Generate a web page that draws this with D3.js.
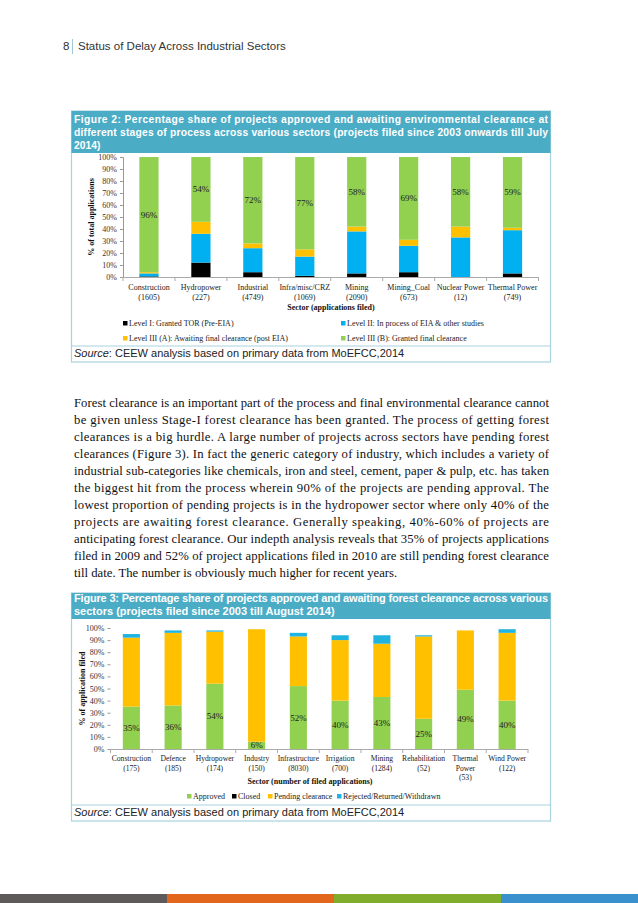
<!DOCTYPE html>
<html>
<head>
<meta charset="utf-8">
<script src="https://cdn.jsdelivr.net/npm/d3@7"></script>
<style>
  body { margin: 0; background: #fff; }
  svg { display: block; }
</style>
</head>
<body>
<svg id="page" width="638" height="903"></svg>
<script>
// ---- figure 2 data: environmental clearance stages ----
var sectors2 = ['Construction', 'Hydropower', 'Industrial', 'Infra/misc/CRZ', 'Mining', 'Mining_Coal', 'Nuclear Power', 'Thermal Power'];
var filed2 = ['(1605)', '(227)', '(4749)', '(1069)', '(2090)', '(673)', '(12)', '(749)'];
var level1 = [0.5, 12, 4, 1, 3, 4, 0, 3];
var level2 = [2.5, 24, 20, 16, 35, 22, 33, 36];
var level3a = [1, 10, 4, 6, 4, 5, 9, 2];
var level3b = [96, 54, 72, 77, 58, 69, 58, 59];
var legend2 = ['Level I: Granted TOR (Pre-EIA)', 'Level II: In process of EIA & other studies',
               'Level III (A): Awaiting final clearance (post EIA)', 'Level III (B): Granted final clearance'];

// ---- figure 3 data: forest clearance ----
var sectors3 = [['Construction', '(175)'], ['Defence', '(185)'], ['Hydropower', '(174)'], ['Industry', '(150)'],
                ['Infrastructure', '(8030)'], ['Irrigation', '(700)'], ['Mining', '(1284)'], ['Rehabilitation', '(52)'],
                ['Thermal', 'Power', '(53)'], ['Wind Power', '(122)']];
var approved = [35, 36, 54, 6, 52, 40, 43, 25, 49, 40];
var closed = [5, 2, 2, 1, 4, 6, 6, 6, 2, 1];
var pending = [57, 60, 43, 93, 41, 50, 44, 68, 49, 56];
var rejected = [3, 2, 1, 0, 3, 4, 7, 1, 0, 3];
var legend3 = ['Approved', 'Closed', 'Pending clearance', 'Rejected/Returned/Withdrawn'];

var yTicks = [0, 10, 20, 30, 40, 50, 60, 70, 80, 90, 100];

var paragraph = [
  'Forest clearance is an important part of the process and final environmental clearance cannot',
  'be given unless Stage-I forest clearance has been granted. The process of getting forest',
  'clearances is a big hurdle. A large number of projects across sectors have pending forest',
  'clearances (Figure 3). In fact the generic category of industry, which includes a variety of',
  'industrial sub-categories like chemicals, iron and steel, cement, paper & pulp, etc. has taken',
  'the biggest hit from the process wherein 90% of the projects are pending approval. The',
  'lowest proportion of pending projects is in the hydropower sector where only 40% of the',
  'projects are awaiting forest clearance. Generally speaking, 40%-60% of projects are',
  'anticipating forest clearance. Our indepth analysis reveals that 35% of projects applications',
  'filed in 2009 and 52% of project applications filed in 2010 are still pending forest clearance',
  'till date. The number is obviously much higher for recent years.'
];

var SANS = "'Liberation Sans', Arial, sans-serif";
var SERIF = "'Liberation Serif', 'Times New Roman', serif";
var TEAL = '#4bacc6', BORDER = '#a9d3df';
var GREEN = '#92d050', BLACK = '#000000', YELLOW = '#ffc000', BLUE = '#00b0f0';

var svg = d3.select('#page');

// page header
svg.append('text').attr('x', 63).attr('y', 50).attr('font-family', SANS).attr('font-size', 11.5)
  .attr('fill', '#333').text('8');
svg.append('line').attr('x1', 72.5).attr('x2', 72.5).attr('y1', 39).attr('y2', 54)
  .attr('stroke', '#9fc9d3').attr('stroke-width', 1);
svg.append('text').attr('x', 78).attr('y', 50).attr('font-family', SANS).attr('font-size', 11.5)
  .attr('fill', '#333').text('Status of Delay Across Industrial Sectors');

// justified line helper
function justLine(g, txt, x, y, w, opts) {
  var t = g.append('text').attr('x', x).attr('y', y)
    .attr('font-family', opts.family).attr('font-size', opts.size)
    .attr('font-weight', opts.weight || 'normal').attr('fill', opts.fill).text(txt);
  if (w) t.attr('textLength', w).attr('lengthAdjust', 'spacing');
  return t;
}

function figureBox(top, titleLines, titleSize, titleBottom, sepY, bottom, sourceY) {
  var g = svg.append('g');
  g.append('rect').attr('x', 71.5).attr('y', top).attr('width', 479).attr('height', bottom - top)
    .attr('fill', '#fff').attr('stroke', BORDER).attr('stroke-width', 1.2);
  g.append('rect').attr('x', 71.5).attr('y', top).attr('width', 479).attr('height', titleBottom - top)
    .attr('fill', TEAL);
  titleLines.forEach(function(l) {
    justLine(g, l.t, 74, l.y, l.w, {family: SANS, size: titleSize, weight: 'bold', fill: '#fff'});
  });
  g.append('line').attr('x1', 71.5).attr('x2', 550.5).attr('y1', sepY).attr('y2', sepY)
    .attr('stroke', BORDER).attr('stroke-width', 1.2);
  var s = g.append('text').attr('x', 74).attr('y', sourceY).attr('font-family', SANS)
    .attr('font-size', 11).attr('fill', '#222');
  s.append('tspan').attr('font-style', 'italic').text('Source');
  s.append('tspan').text(': CEEW analysis based on primary data from MoEFCC,2014');
  return g;
}

// stacked bar chart helper
function stackedChart(cfg) {
  var g = svg.append('g');
  var x = d3.scaleBand().domain(d3.range(cfg.n)).range([cfg.x0, cfg.x1]).padding(0);
  var y = d3.scaleLinear().domain([0, 100]).range([cfg.yBottom, cfg.yTop]);
  var bw = x.bandwidth() * cfg.barFrac;

  var rows = d3.range(cfg.n).map(function(i) {
    var r = {i: i};
    cfg.series.forEach(function(s) { r[s.key] = s.values[i]; });
    return r;
  });
  var stack = d3.stack().keys(cfg.series.map(function(s) { return s.key; }))(rows);
  var colors = {};
  cfg.series.forEach(function(s) { colors[s.key] = s.color; });

  g.selectAll('g.layer').data(stack).enter().append('g').attr('class', 'layer')
    .attr('fill', function(d) { return colors[d.key]; })
    .selectAll('rect').data(function(d) { return d; }).enter().append('rect')
      .attr('x', function(d) { return x(d.data.i) + (x.bandwidth() - bw) / 2; })
      .attr('width', bw)
      .attr('y', function(d) { return y(d[1]); })
      .attr('height', function(d) { return y(d[0]) - y(d[1]); });

  // data labels in the middle of the labelled layer
  var lab = stack.filter(function(s) { return s.key === cfg.labelKey; })[0];
  g.selectAll('text.dl').data(lab).enter().append('text').attr('class', 'dl')
    .attr('x', function(d) { return x(d.data.i) + x.bandwidth() / 2; })
    .attr('y', function(d) { return y((d[0] + d[1]) / 2) + 3; })
    .attr('text-anchor', 'middle').attr('font-family', SERIF).attr('font-size', 9)
    .attr('fill', '#222').text(function(d) { return (d[1] - d[0]) + '%'; });

  // y axis
  var ya = d3.axisLeft(y).tickValues(yTicks).tickSize(3).tickFormat(function(v) { return v + '%'; });
  var yg = g.append('g').attr('transform', 'translate(' + cfg.x0 + ',0)').call(ya);
  yg.selectAll('text').attr('font-family', SERIF).attr('font-size', 8).attr('fill', '#333');
  yg.selectAll('line').attr('stroke', '#999');
  yg.select('.domain').attr('stroke', cfg.yDomain ? '#999' : 'none');

  // x axis baseline with ticks between categories
  g.append('line').attr('x1', cfg.x0).attr('x2', cfg.x1).attr('y1', cfg.yBottom + 0.5).attr('y2', cfg.yBottom + 0.5)
    .attr('stroke', '#aaa');
  g.selectAll('line.xt').data(d3.range(cfg.n + 1)).enter().append('line').attr('class', 'xt')
    .attr('x1', function(i) { return i < cfg.n ? x(i) : cfg.x1; })
    .attr('x2', function(i) { return i < cfg.n ? x(i) : cfg.x1; })
    .attr('y1', cfg.yBottom).attr('y2', cfg.yBottom + 4).attr('stroke', '#aaa');

  // category labels
  g.selectAll('text.cat').data(cfg.cats).enter().append('text').attr('class', 'cat')
    .attr('text-anchor', 'middle').attr('font-family', SERIF).attr('font-size', cfg.catSize).attr('fill', '#222')
    .each(function(lines, i) {
      var t = d3.select(this);
      lines.forEach(function(l, k) {
        t.append('tspan').attr('x', x(i) + x.bandwidth() / 2).attr('y', cfg.catY + k * cfg.catLead).text(l);
      });
    });

  // axis titles
  g.append('text').attr('x', cfg.xTitleX).attr('y', cfg.xTitleY).attr('text-anchor', 'middle')
    .attr('font-family', SERIF).attr('font-size', 8).attr('font-weight', 'bold').attr('fill', '#111')
    .text(cfg.xTitle);
  g.append('text').attr('transform', 'translate(' + cfg.yTitleX + ',' + ((cfg.yTop + cfg.yBottom) / 2) + ') rotate(-90)')
    .attr('text-anchor', 'middle').attr('font-family', SERIF).attr('font-size', 8).attr('font-weight', 'bold')
    .attr('fill', '#111').text(cfg.yTitle);

  // legend
  cfg.legend.forEach(function(it) {
    g.append('rect').attr('x', it.x).attr('y', it.y - 5).attr('width', 4.5).attr('height', 4.5).attr('fill', it.color);
    g.append('text').attr('x', it.x + 6).attr('y', it.y).attr('font-family', SERIF).attr('font-size', 8)
      .attr('fill', '#222').text(it.label);
  });
  return g;
}

// ---- Figure 2 ----
figureBox(111, [
  {t: 'Figure 2: Percentage share of projects approved and awaiting environmental clearance at', y: 123, w: 474},
  {t: 'different stages of process across various sectors (projects filed since 2003 onwards till July', y: 136, w: 474},
  {t: '2014)', y: 149}
], 10.3, 153, 346, 362, 357);

stackedChart({
  n: sectors2.length, x0: 123, x1: 538.5, yTop: 157, yBottom: 277, barFrac: 0.37, yDomain: true,
  series: [
    {key: 'l1', values: level1, color: BLACK},
    {key: 'l2', values: level2, color: BLUE},
    {key: 'l3a', values: level3a, color: YELLOW},
    {key: 'l3b', values: level3b, color: GREEN}
  ],
  labelKey: 'l3b',
  cats: sectors2.map(function(s, i) { return [s, filed2[i]]; }), catY: 290, catLead: 9.5, catSize: 8,
  xTitle: 'Sector (applications filed)', xTitleX: 331, xTitleY: 310,
  yTitle: '% of total applications', yTitleX: 94,
  legend: [
    {x: 123, y: 326, color: BLACK, label: legend2[0]},
    {x: 341, y: 326, color: BLUE, label: legend2[1]},
    {x: 123, y: 341, color: YELLOW, label: legend2[2]},
    {x: 341, y: 341, color: GREEN, label: legend2[3]}
  ]
});

// ---- body paragraph ----
var para = svg.append('g');
paragraph.forEach(function(l, i) {
  var last = i === paragraph.length - 1;
  justLine(para, l, 74, 407 + i * 17, last ? null : 475, {family: SERIF, size: 12.7, fill: '#111'});
});

// ---- Figure 3 ----
figureBox(593, [
  {t: 'Figure 3: Percentage share of projects approved and awaiting forest clearance across various', y: 602, w: 474},
  {t: 'sectors (projects filed since 2003 till August 2014)', y: 615}
], 11, 619, 805, 821, 816);

stackedChart({
  n: sectors3.length, x0: 110.5, x1: 528, yTop: 628, yBottom: 749, barFrac: 0.41, yDomain: false,
  series: [
    {key: 'ap', values: approved, color: GREEN},
    {key: 'cl', values: closed, color: BLACK},
    {key: 'pe', values: pending, color: YELLOW},
    {key: 're', values: rejected, color: '#1fb3e0'}
  ],
  labelKey: 'ap',
  cats: sectors3, catY: 761, catLead: 9.5, catSize: 7.6,
  xTitle: 'Sector (number of filed applications)', xTitleX: 310, xTitleY: 784,
  yTitle: '% of application filed', yTitleX: 85,
  legend: [
    {x: 187, y: 799, color: GREEN, label: legend3[0]},
    {x: 232, y: 799, color: BLACK, label: legend3[1]},
    {x: 268, y: 799, color: YELLOW, label: legend3[2]},
    {x: 337, y: 799, color: '#1fb3e0', label: legend3[3]}
  ]
});

// footer colour band
var footColors = ['#5e5a5a', '#e2661b', '#80ad2b', '#3a90cd'];
var fx = d3.scaleBand().domain(d3.range(4)).range([0, 668]);
svg.selectAll('rect.foot').data(footColors).enter().append('rect').attr('class', 'foot')
  .attr('x', function(d, i) { return fx(i); }).attr('y', 894)
  .attr('width', fx.bandwidth()).attr('height', 9).attr('fill', function(d) { return d; });
</script>
</body>
</html>
